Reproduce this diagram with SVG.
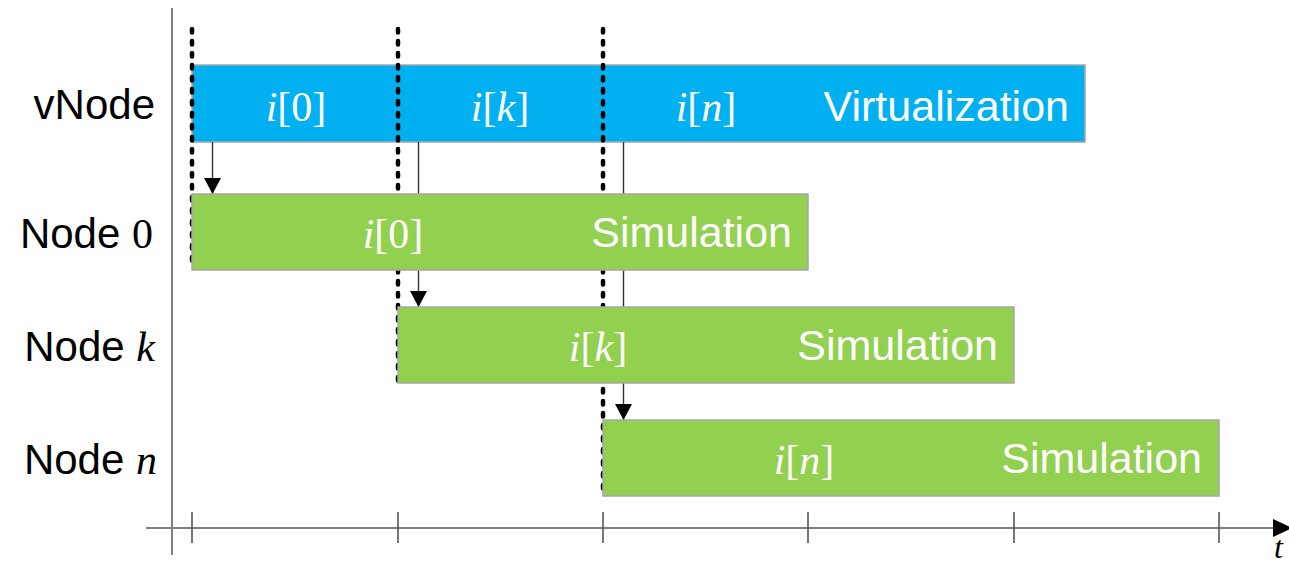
<svg xmlns="http://www.w3.org/2000/svg" width="1289" height="567" viewBox="0 0 1289 567">
  <style>
    .axis { stroke: #7f7f7f; stroke-width: 2; fill: none; }
    .tick { stroke: #555; stroke-width: 1.6; }
    .bar { stroke: #a6a6a6; stroke-width: 1.5; }
    .virt { fill: #00b0f0; }
    .sim { fill: #92d050; }
    .lbl { font-family: "Liberation Sans", Arial, sans-serif; font-size: 42px; fill: #000; }
    .in { font-family: "Liberation Sans", Arial, sans-serif; font-size: 43px; fill: #fff; text-anchor: end; }
    .math { font-family: "Liberation Serif", "Times New Roman", serif; font-size: 42px; fill: #fff; text-anchor: middle; }
    .it { font-style: italic; }
    .mser { font-family: "Liberation Serif", "Times New Roman", serif; }
    .sync { stroke: #000; stroke-width: 4.5; stroke-dasharray: 3.5 8.5; stroke-linecap: round; fill: none; }
    .flow { stroke: #333; stroke-width: 1.4; fill: none; marker-end: url(#head); }
  </style>
  <defs>
    <marker id="head" viewBox="0 0 16 17" refX="16" refY="8.5" markerWidth="16" markerHeight="17" markerUnits="userSpaceOnUse" orient="auto">
      <path d="M0,0 L16,8.5 L0,17 Z" fill="#000"/>
    </marker>
  </defs>

  <rect width="1289" height="567" fill="#fff"/>

  <!-- axes -->
  <g id="axes">
    <line class="axis" x1="172" y1="8" x2="172" y2="555"/>
    <line class="axis" x1="146" y1="528" x2="1276" y2="528"/>
    <path d="M1273,519 L1292,528 L1273,537 Z" fill="#000"/>
    <g class="tick">
      <line x1="192" y1="512" x2="192" y2="543"/>
      <line x1="398" y1="512" x2="398" y2="543"/>
      <line x1="603" y1="512" x2="603" y2="543"/>
      <line x1="808" y1="512" x2="808" y2="543"/>
      <line x1="1014" y1="512" x2="1014" y2="543"/>
      <line x1="1219" y1="512" x2="1219" y2="543"/>
    </g>
    <text x="1274" y="558" class="mser it" font-size="32" fill="#000">t</text>
  </g>

  <!-- row labels -->
  <g id="labels">
    <text class="lbl" x="155" y="119" text-anchor="end">vNode</text>
    <text class="lbl" x="153" y="248" text-anchor="end">Node <tspan class="mser">0</tspan></text>
    <text class="lbl" x="155" y="361" text-anchor="end">Node <tspan class="mser it">k</tspan></text>
    <text class="lbl" x="157" y="474" text-anchor="end">Node <tspan class="mser it">n</tspan></text>
  </g>

  <!-- virtualization node -->
  <g id="vnode">
    <rect class="bar virt" x="192" y="65" width="893" height="77"/>
    <text class="math" x="296" y="121"><tspan class="it">i</tspan>[0]</text>
    <text class="math" x="500" y="121"><tspan class="it">i</tspan>[<tspan class="it">k</tspan>]</text>
    <text class="math" x="706" y="121"><tspan class="it">i</tspan>[<tspan class="it">n</tspan>]</text>
    <text class="in" x="1069" y="121">Virtualization</text>
  </g>

  <!-- synchronisation lines and hand-over arrows -->
  <g id="connectors">
    <line class="sync" x1="192" y1="29" x2="192" y2="268"/>
    <line class="sync" x1="398" y1="29" x2="398" y2="381"/>
    <line class="sync" x1="603" y1="29" x2="603" y2="494"/>
    <line class="flow" x1="212.5" y1="142" x2="212.5" y2="194"/>
    <line class="flow" x1="418.5" y1="142" x2="418.5" y2="307"/>
    <line class="flow" x1="623.5" y1="142" x2="623.5" y2="420"/>
  </g>

  <!-- simulation nodes -->
  <g id="node0">
    <rect class="bar sim" x="192" y="194" width="616" height="76"/>
    <text class="math" x="393" y="248"><tspan class="it">i</tspan>[0]</text>
    <text class="in" x="792" y="247">Simulation</text>
  </g>
  <g id="nodek">
    <rect class="bar sim" x="398" y="307" width="616" height="76"/>
    <text class="math" x="598" y="361"><tspan class="it">i</tspan>[<tspan class="it">k</tspan>]</text>
    <text class="in" x="998" y="360">Simulation</text>
  </g>
  <g id="noden">
    <rect class="bar sim" x="603" y="420" width="616" height="76"/>
    <text class="math" x="804" y="474"><tspan class="it">i</tspan>[<tspan class="it">n</tspan>]</text>
    <text class="in" x="1202" y="473">Simulation</text>
  </g>
</svg>
